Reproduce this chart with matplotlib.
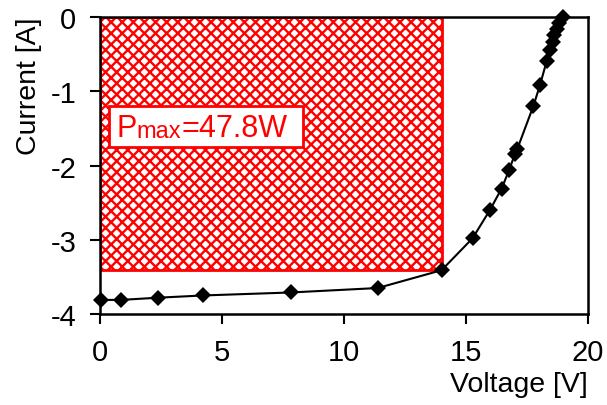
import matplotlib.pyplot as plt
from matplotlib.patches import Rectangle
import numpy as np

plt.rcParams['font.family'] = ['Liberation Sans', 'DejaVu Sans']
plt.rcParams['hatch.linewidth'] = 1.7
plt.rcParams['axes.unicode_minus'] = False

# measured I-V curve of the panel
voltage = [0.03, 0.86, 2.39, 4.24, 7.81, 11.38, 14.0, 15.27, 15.98, 16.46, 16.77,
           17.0, 17.1, 17.76, 18.03, 18.31, 18.45, 18.55, 18.62, 18.72, 18.8, 18.96]
current = [-3.81, -3.81, -3.78, -3.75, -3.71, -3.65, -3.41, -2.98, -2.60, -2.31, -2.06,
           -1.85, -1.78, -1.20, -0.92, -0.59, -0.45, -0.34, -0.24, -0.16, -0.08, 0.0]

v_mp = 14.0
i_mp = -3.41
p_max = 47.8

xticks = [0, 5, 10, 15, 20]
yticks = [0, -1, -2, -3, -4]

fig = plt.figure(figsize=(6.07, 4.06), dpi=100)
ax = fig.add_axes([0.1647, 0.2241, 0.804, 0.7316])

# max power rectangle
rect = Rectangle((0, i_mp), v_mp, -i_mp, facecolor='white', edgecolor='red',
                 hatch='xxx', linewidth=2, zorder=2)
ax.add_patch(rect)

ax.plot(voltage, current, color='black', lw=1.5, marker='D', ms=8.5,
        markeredgewidth=0, zorder=4, clip_on=False)

# label box
box = Rectangle((0.018, 0.562), 0.398, 0.138, transform=ax.transAxes,
                facecolor='white', edgecolor='red', linewidth=2, zorder=3)
ax.add_patch(box)
t1 = ax.text(0.034, 0.599, 'P', transform=ax.transAxes, color='red',
             fontsize=22, va='baseline', ha='left', zorder=5)
t2 = ax.annotate('max', xy=(1, 0), xycoords=t1, xytext=(0, 1.0),
                 textcoords='offset points', color='red', fontsize=17,
                 va='bottom', ha='left', zorder=5)
ax.annotate('=%.1fW' % p_max, xy=(1, 0), xycoords=t2, xytext=(0, -1.0),
            textcoords='offset points', color='red', fontsize=22,
            va='bottom', ha='left', zorder=5)

ax.set_xlim(0, 20)
ax.set_ylim(-4, 0)
ax.set_xticks(xticks)
ax.set_yticks(yticks)
ax.tick_params(direction='out', length=7, width=1.5, labelsize=21, pad=10)
for s in ax.spines.values():
    s.set_linewidth(1.8)

ax.set_xlabel('Voltage [V]', fontsize=20.5, loc='right', labelpad=4)
ax.set_ylabel('Current [A]', fontsize=20.5, loc='top', labelpad=6)

fig.savefig('out.png', dpi=100)
